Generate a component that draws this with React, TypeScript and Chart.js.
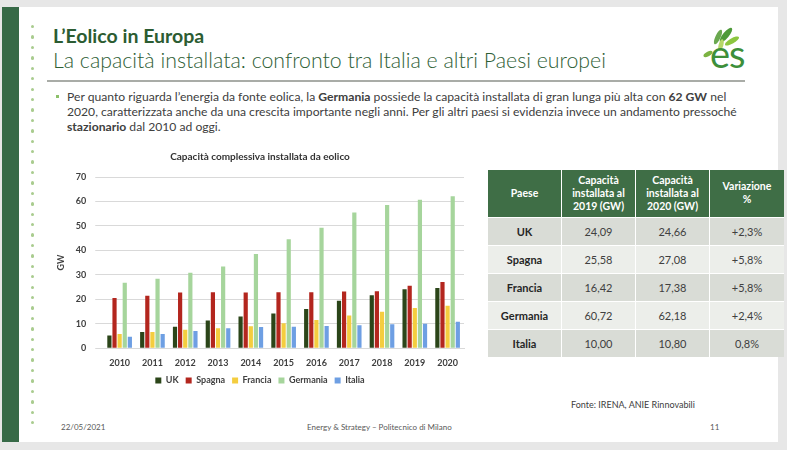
import React, { useEffect, useRef } from "react";
import { Chart, registerables } from "chart.js";

Chart.register(...registerables);

// Installed wind capacity (GW) by country, 2010-2020
const years = ["2010", "2011", "2012", "2013", "2014", "2015", "2016", "2017", "2018", "2019", "2020"];
const ukValues = [5.2, 6.6, 8.8, 11.3, 13.0, 14.2, 16.0, 19.4, 21.7, 24.09, 24.66];
const spagnaValues = [20.5, 21.4, 22.8, 22.9, 22.8, 22.9, 22.9, 23.2, 23.3, 25.58, 27.08];
const franciaValues = [5.8, 6.6, 7.5, 8.2, 9.0, 10.2, 11.5, 13.4, 14.9, 16.42, 17.38];
const germaniaValues = [26.8, 28.4, 30.8, 33.4, 38.5, 44.5, 49.3, 55.5, 58.6, 60.72, 62.18];
const italiaValues = [4.7, 5.8, 7.0, 8.2, 8.7, 8.8, 9.1, 9.4, 9.8, 10.0, 10.8];

const seriesNames = ["UK", "Spagna", "Francia", "Germania", "Italia"];
const seriesColors = ["#2b4519", "#b3261e", "#f4cd3f", "#a6d59c", "#6e9fe3"];

// Summary table rows
const tableCountries = ["UK", "Spagna", "Francia", "Germania", "Italia"];
const table2019 = ["24,09", "25,58", "16,42", "60,72", "10,00"];
const table2020 = ["24,66", "27,08", "17,38", "62,18", "10,80"];
const tableChange = ["+2,3%", "+5,8%", "+5,8%", "+2,4%", "0,8%"];

const FONT = "Lato, 'Open Sans', sans-serif";

function WindChart() {
  const ref = useRef<HTMLCanvasElement | null>(null);
  useEffect(() => {
    if (!ref.current) return;
    const values = [ukValues, spagnaValues, franciaValues, germaniaValues, italiaValues];
    const chart = new Chart(ref.current, {
      type: "bar",
      data: {
        labels: years,
        datasets: seriesNames.map((name, i) => ({
          label: name,
          data: values[i],
          backgroundColor: seriesColors[i],
          borderWidth: 0,
          categoryPercentage: 0.78,
          barPercentage: 0.82,
        })),
      },
      options: {
        animation: false,
        responsive: false,
        maintainAspectRatio: false,
        layout: { padding: { left: 18, right: 6, top: 2, bottom: 0 } },
        plugins: {
          title: {
            display: true,
            text: "Capacità complessiva installata da eolico",
            color: "#333333",
            font: { family: FONT, size: 10, weight: "bold" },
            padding: { top: 2, bottom: 14 },
          },
          legend: {
            position: "bottom",
            labels: {
              boxWidth: 6,
              boxHeight: 6,
              padding: 7,
              color: "#404040",
              font: { family: FONT, size: 9, weight: "bold" },
            },
          },
          tooltip: { enabled: false },
        },
        scales: {
          x: {
            grid: { display: false },
            border: { color: "#d9d9d9" },
            ticks: { color: "#404040", padding: 1, font: { family: FONT, size: 9, weight: "bold" }, maxRotation: 0 },
          },
          y: {
            min: 0,
            max: 70,
            grid: { color: "#d9d9d9" },
            border: { display: false },
            ticks: { stepSize: 10, color: "#404040", padding: 9, font: { family: FONT, size: 9, weight: "bold" } },
            title: {
              display: true,
              text: "GW",
              color: "#404040",
              font: { family: FONT, size: 9, weight: "bold" },
              padding: 0,
            },
          },
        },
      },
    });
    return () => chart.destroy();
  }, []);
  return <canvas ref={ref} width={432} height={248} style={{ width: 432, height: 248, display: "block" }} />;
}

function Logo() {
  return (
    <svg width="64" height="52" viewBox="0 0 64 52" style={{ position: "absolute", left: 694, top: 22 }}>
      <g>
        <ellipse cx="24" cy="15" rx="2.6" ry="8" fill="#6aa84f" transform="rotate(25 24 15)" />
        <ellipse cx="32" cy="13" rx="3" ry="9" fill="#4e9a3a" transform="rotate(40 32 13)" />
        <ellipse cx="38" cy="19" rx="2.6" ry="8" fill="#8cc63f" transform="rotate(60 38 19)" />
        <ellipse cx="27" cy="23" rx="2.4" ry="6" fill="#b5d86a" transform="rotate(15 27 23)" />
        <ellipse cx="14" cy="32" rx="2.2" ry="5" fill="#7cb342" transform="rotate(60 14 32)" />
      </g>
      <text x="16" y="46" fontFamily={FONT} fontSize="38" fill="#3d8f3a" letterSpacing="-1">es</text>
    </svg>
  );
}

export default function App() {
  const dots = Array.from({ length: 39 }, (_, i) => 26.7 + i * 10.42);
  const abs = (l: number, t: number): React.CSSProperties => ({ position: "absolute", left: l, top: t, whiteSpace: "nowrap" });
  const rowBg = ["#d9dcd6", "#eceeea", "#d9dcd6", "#eceeea", "#d9dcd6"];
  const colW = [69, 69, 69, 70];
  return (
    <div style={{ position: "fixed", left: 0, top: 0, width: 787, height: 450, background: "#e7e7e7", overflow: "hidden", fontFamily: FONT }}>
      <div style={{ position: "absolute", left: 2, top: 7, width: 776, height: 435, background: "#ffffff" }}>
        <div style={{ position: "absolute", left: 0, top: 0, width: 17, height: 435, background: "#376a47" }} />
      </div>
      {dots.map((y, i) => (
        <div key={i} style={{ position: "absolute", left: 31, top: y - 1.7, width: 3.4, height: 3.4, borderRadius: 2, background: "#a9cc8e" }} />
      ))}
      <div style={{ ...abs(53, 24), fontSize: 19.5, fontWeight: 700, color: "#2c5c32", lineHeight: "24px" }}>L’Eolico in Europa</div>
      <div style={{ ...abs(53, 47), fontSize: 21.3, fontWeight: 300, color: "#2e6035", lineHeight: "26px" }}>
        La capacità installata: confronto tra Italia e altri Paesi europei
      </div>
      <div style={{ position: "absolute", left: 47, top: 80, width: 698, height: 1.5, background: "#a9aca7" }} />
      <Logo />
      <div style={{ position: "absolute", left: 56, top: 95, width: 3, height: 3, background: "#8cc06a" }} />
      <div style={{ ...abs(67, 89), fontSize: 12.15, color: "#404040", lineHeight: "15px" }}>
        Per quanto riguarda l’energia da fonte eolica, la <b>Germania</b> possiede la capacità installata di gran lunga più alta con <b>62 GW</b> nel
        <br />
        2020, caratterizzata anche da una crescita importante negli anni. Per gli altri paesi si evidenzia invece un andamento pressoché
        <br />
        <b>stazionario</b> dal 2010 ad oggi.
      </div>

      <div style={{ position: "absolute", left: 38, top: 147 }}>
        <WindChart />
      </div>

      <table
        style={{
          position: "absolute",
          left: 488,
          top: 170,
          width: 277,
          tableLayout: "fixed",
          borderCollapse: "collapse",
          fontFamily: FONT,
          fontSize: 11,
          textAlign: "center",
        }}
      >
        <thead>
          <tr style={{ background: "#3f6e46", color: "#ffffff", height: 47 }}>
            {["Paese", "Capacità installata al 2019 (GW)", "Capacità installata al 2020 (GW)", "Variazione %"].map((h, i) => (
              <th
                key={i}
                style={{
                  width: colW[i],
                  padding: "0 2px",
                  fontSize: 10.5,
                  lineHeight: "13px",
                  fontWeight: 700,
                  borderRight: i < 3 ? "1.5px solid #ffffff" : "none",
                  whiteSpace: "normal",
                }}
              >
                {i === 3 ? (
                  <>
                    Variazione
                    <br />%
                  </>
                ) : (
                  h
                )}
              </th>
            ))}
          </tr>
        </thead>
        <tbody>
          {tableCountries.map((c, r) => (
            <tr key={c} style={{ background: rowBg[r], height: 28, borderTop: "1.5px solid #ffffff" }}>
              <td style={{ fontWeight: 700, color: "#262626", borderRight: "1.5px solid #ffffff" }}>{c}</td>
              <td style={{ color: "#404040", borderRight: "1.5px solid #ffffff" }}>{table2019[r]}</td>
              <td style={{ color: "#404040", borderRight: "1.5px solid #ffffff" }}>{table2020[r]}</td>
              <td style={{ color: "#404040" }}>{tableChange[r]}</td>
            </tr>
          ))}
        </tbody>
      </table>

      <div style={{ ...abs(571, 399), fontSize: 9, color: "#404040" }}>Fonte: IRENA, ANIE Rinnovabili</div>
      <div style={{ ...abs(61, 422), fontSize: 8, color: "#595959" }}>22/05/2021</div>
      <div style={{ ...abs(307, 422), fontSize: 8, color: "#595959" }}>Energy &amp; Strategy – Politecnico di Milano</div>
      <div style={{ ...abs(710, 422), fontSize: 8, color: "#595959" }}>11</div>
    </div>
  );
}
